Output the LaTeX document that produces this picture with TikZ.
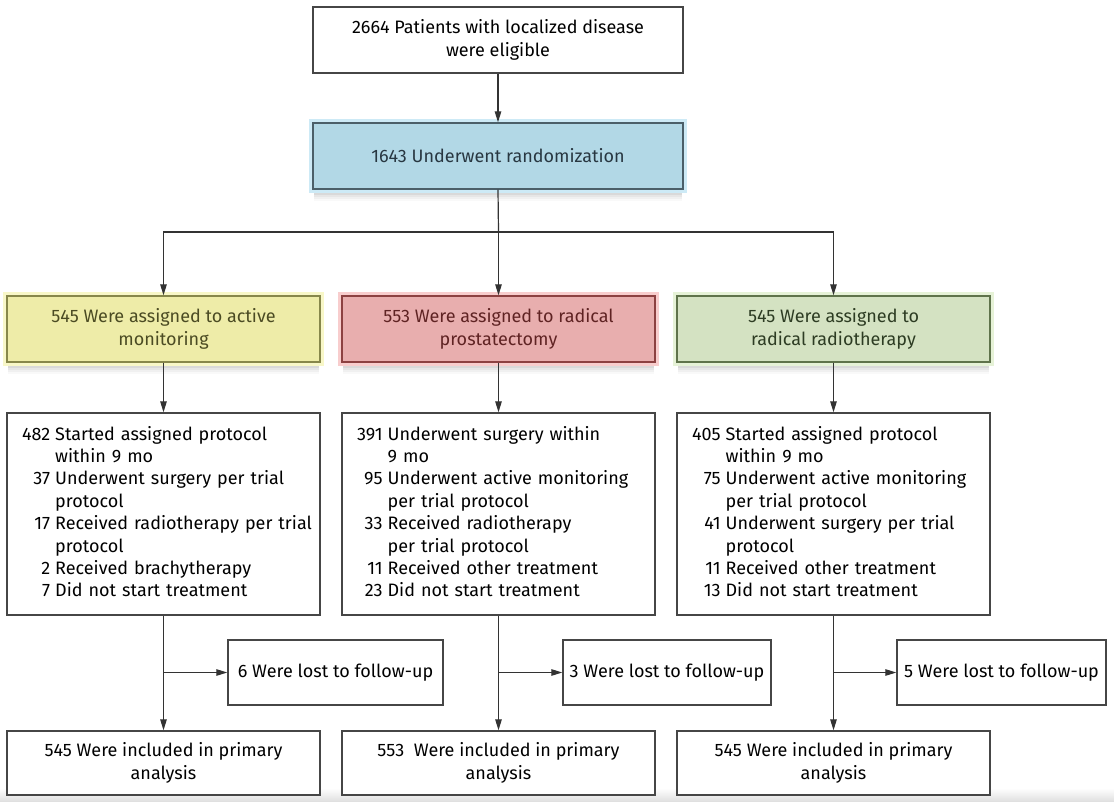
\documentclass[tikz,border=0pt]{standalone}
\usepackage{fontspec}
\setmainfont{Fira Sans}
\usetikzlibrary{arrows.meta,backgrounds,calc}
\definecolor{lineK}{RGB}{70,70,70}
\definecolor{blueF}{RGB}{178,216,230}
\definecolor{blueH}{RGB}{205,234,246}
\definecolor{blueL}{RGB}{75,95,105}
\definecolor{blueT}{RGB}{40,55,65}
\definecolor{yelF}{RGB}{238,236,168}
\definecolor{yelH}{RGB}{248,247,200}
\definecolor{yelL}{RGB}{135,135,75}
\definecolor{yelT}{RGB}{75,75,35}
\definecolor{redF}{RGB}{232,174,174}
\definecolor{redH}{RGB}{248,205,205}
\definecolor{redL}{RGB}{140,65,65}
\definecolor{redT}{RGB}{95,35,35}
\definecolor{grnF}{RGB}{212,226,194}
\definecolor{grnH}{RGB}{230,242,215}
\definecolor{grnL}{RGB}{95,115,75}
\definecolor{grnT}{RGB}{45,60,35}
\newcommand{\fs}{\fontsize{18}{22.4}\selectfont}
\newcommand{\decor}[2]{%
 \begin{scope}[on background layer]
  \foreach \d/\o in {11/0.025,9/0.035,7/0.045,5/0.055}{
   \fill[black,opacity=\o] ($(#1.north west)+(2,\d)$) rectangle ($(#1.south east)+(-2,\d)$);}
  \fill[#2] ($(#1.north west)+(-3,-3)$) rectangle ($(#1.south east)+(3,3)$);
 \end{scope}}
\newcommand{\items}[1]{\noindent\begin{tabular}{@{}r@{\hspace{5pt}}l@{}}#1\end{tabular}}
\begin{document}
\begin{tikzpicture}[x=1pt,y=-1pt,
  box/.style={draw=lineK, line width=1.4pt, fill=white, align=center, inner sep=0pt, font=\fs},
  cbox/.style={box, minimum width=313pt, minimum height=66pt},
  detail/.style={box, minimum width=313pt, minimum height=202pt, text width=283pt, align=left},
  lostbox/.style={box, minimum height=65pt},
  endbox/.style={box, minimum width=313pt, minimum height=64pt},
  ln/.style={line width=1.2pt, draw=black!80},
  arr/.style={ln, -{Triangle[length=11pt,width=6.5pt]}}
]
\useasboundingbox (0,0) rectangle (1114,801);
\fill[top color=white, bottom color=black!12, draw=none] (0,788) rectangle (1114,801);

\node[box, minimum width=370pt, minimum height=66pt] (elig) at (498,40) {2664 Patients with localized disease\\were eligible};
\node[box, fill=blueF, draw=blueL, text=blueT, minimum width=370pt, minimum height=66pt] (rand) at (498,156) {1643 Underwent randomization};
\decor{rand}{blueH}

\node[cbox, fill=yelF, draw=yelL, text=yelT] (am) at (163.5,329) {545 Were assigned to active\\monitoring};
\node[cbox, fill=redF, draw=redL, text=redT] (rp) at (498.5,329) {553 Were assigned to radical\\prostatectomy};
\node[cbox, fill=grnF, draw=grnL, text=grnT] (rt) at (833.5,329) {545 Were assigned to\\radical radiotherapy};
\decor{am}{yelH}
\decor{rp}{redH}
\decor{rt}{grnH}

\node[detail] (d1) at (163.5,514) {\items{%
482 & Started assigned protocol\\
 & within 9 mo\\
37 & Underwent surgery per trial\\
 & protocol\\
17 & Received radiotherapy per trial\\
 & protocol\\
2 & Received brachytherapy\\
7 & Did not start treatment}};
\node[detail] (d2) at (498.5,514) {\items{%
391 & Underwent surgery within\\
 & 9 mo\\
95 & Underwent active monitoring\\
 & per trial protocol\\
33 & Received radiotherapy\\
 & per trial protocol\\
11 & Received other treatment\\
23 & Did not start treatment}};
\node[detail] (d3) at (833.5,514) {\items{%
405 & Started assigned protocol\\
 & within 9 mo\\
75 & Underwent active monitoring\\
 & per trial protocol\\
41 & Underwent surgery per trial\\
 & protocol\\
11 & Received other treatment\\
13 & Did not start treatment}};

\node[lostbox, minimum width=215pt] (l1) at (335.5,672.5) {6 Were lost to follow-up};
\node[lostbox, minimum width=208pt] (l2) at (667,672.5) {3 Were lost to follow-up};
\node[lostbox, minimum width=209pt] (l3) at (1001.5,672.5) {5 Were lost to follow-up};

\node[endbox] (b1) at (163.5,763) {545 Were included in primary\\analysis};
\node[endbox] (b2) at (498.5,763) {553\ \ Were included in primary\\analysis};
\node[endbox] (b3) at (833.5,763) {545 Were included in primary\\analysis};

\coordinate (br) at (498.5,232);
\draw[arr] (elig) -- (rand);
\draw[ln] (rand.south) -- (br);
\draw[arr] (br) -| (am.north);
\draw[arr] (br) -- (rp.north);
\draw[arr] (br) -| (rt.north);

\draw[arr] (am) -- (d1);
\draw[arr] (rp) -- (d2);
\draw[arr] (rt) -- (d3);

\draw[arr] (d1) -- (b1);
\draw[arr] (d2) -- (b2);
\draw[arr] (d3) -- (b3);
\draw[arr] (d1.south |- l1.west) -- (l1.west);
\draw[arr] (d2.south |- l2.west) -- (l2.west);
\draw[arr] (d3.south |- l3.west) -- (l3.west);
\end{tikzpicture}
\end{document}
